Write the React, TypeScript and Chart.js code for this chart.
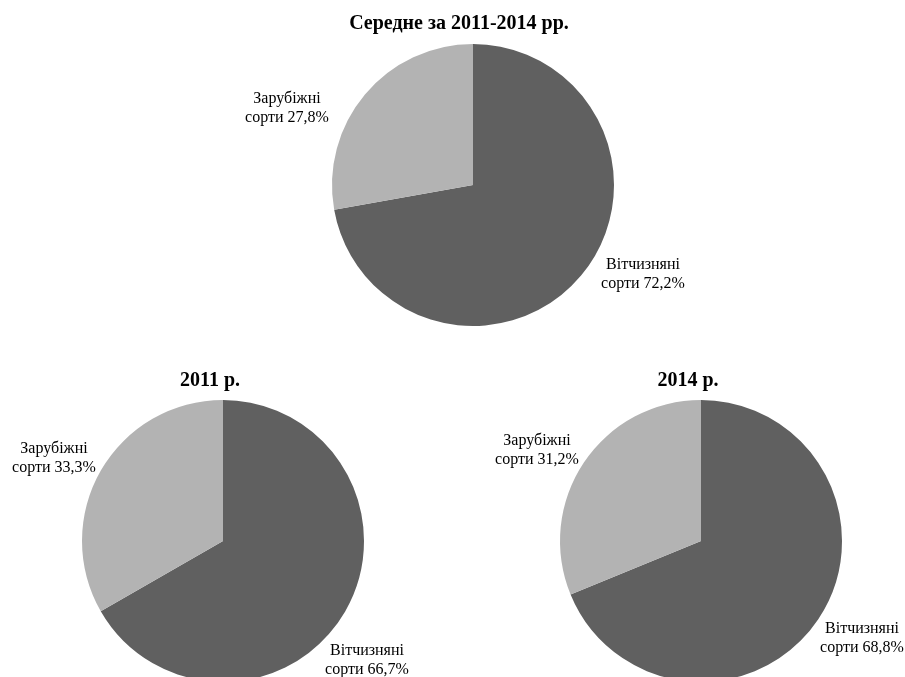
import React, { useEffect, useRef } from "react";
import { Chart, registerables } from "chart.js";

Chart.register(...registerables);

// ---- Data ----
const categories = ["Вітчизняні сорти", "Зарубіжні сорти"];
const avgValues = [72.2, 27.8];
const values2011 = [66.7, 33.3];
const values2014 = [68.8, 31.2];
const chartTitles = ["Середне за 2011-2014 рр.", "2011 р.", "2014 р."];

// ---- Styles / layout ----
const sliceColors = ["#606060", "#b3b3b3"];
const FONT = '"Liberation Serif", "Times New Roman", serif';
const PAGE_W = 905;
const PAGE_H = 677;
const CANVAS_H = 720;
const RADIUS = 141;

type LabelPos = { dx: number; dy: number };
type PieLayout = { cx: number; cy: number; titleDx: number; titleDy: number; labels: LabelPos[] };

const layouts: PieLayout[] = [
  { cx: 473, cy: 185, titleDx: -14, titleDy: -156, labels: [{ dx: 170, dy: 84 }, { dx: -186, dy: -82 }] },
  { cx: 223, cy: 541, titleDx: -13, titleDy: -155, labels: [{ dx: 144, dy: 114 }, { dx: -169, dy: -88 }] },
  { cx: 701, cy: 541, titleDx: -13, titleDy: -155, labels: [{ dx: 161, dy: 92 }, { dx: -164, dy: -96 }] },
];

const seriesList = [avgValues, values2011, values2014];

const fmt = (v: number) => v.toFixed(1).replace(".", ",") + "%";

const labelPlugin = {
  id: "pieText",
  afterDraw(chart: any, _args: any, opts: any) {
    const meta = chart.getDatasetMeta(0);
    const arc = meta.data[0];
    if (!arc) return;
    const cx = arc.x;
    const cy = arc.y;
    const ctx = chart.ctx;
    ctx.save();
    ctx.fillStyle = "#000";
    ctx.textAlign = "center";
    ctx.textBaseline = "alphabetic";
    // title
    ctx.font = `bold 20px ${FONT}`;
    ctx.fillText(opts.title, cx + opts.titleDx, cy + opts.titleDy);
    // labels
    ctx.font = `16px ${FONT}`;
    const data = chart.data.datasets[0].data as number[];
    const labels = chart.data.labels as string[];
    data.forEach((v, i) => {
      const pos = opts.labels[i];
      const words = labels[i].split(" ");
      const lines = [words[0], words.slice(1).join(" ") + " " + fmt(v)];
      lines.forEach((line, j) => {
        ctx.fillText(line, cx + pos.dx, cy + pos.dy + j * 19);
      });
    });
    ctx.restore();
  },
};

function PieCanvas({ idx }: { idx: number }) {
  const ref = useRef<HTMLCanvasElement | null>(null);
  useEffect(() => {
    if (!ref.current) return;
    const L = layouts[idx];
    const chart = new Chart(ref.current, {
      type: "pie",
      data: {
        labels: categories,
        datasets: [
          {
            data: seriesList[idx],
            backgroundColor: sliceColors,
            borderWidth: 0,
            hoverOffset: 0,
          },
        ],
      },
      options: {
        responsive: false,
        animation: false,
        devicePixelRatio: 1,
        layout: {
          padding: {
            left: L.cx - RADIUS,
            top: L.cy - RADIUS,
            right: PAGE_W - (L.cx + RADIUS),
            bottom: CANVAS_H - (L.cy + RADIUS),
          },
        },
        plugins: {
          legend: { display: false },
          tooltip: { enabled: false },
          title: { display: false },
          pieText: {
            title: chartTitles[idx],
            titleDx: L.titleDx,
            titleDy: L.titleDy,
            labels: L.labels,
          },
        } as any,
      },
      plugins: [labelPlugin],
    });
    return () => chart.destroy();
  }, [idx]);
  return (
    <canvas
      ref={ref}
      width={PAGE_W}
      height={CANVAS_H}
      style={{ position: "absolute", left: 0, top: 0, width: PAGE_W, height: CANVAS_H }}
    />
  );
}

export default function App() {
  return (
    <div
      style={{
        position: "fixed",
        left: 0,
        top: 0,
        width: PAGE_W,
        height: PAGE_H,
        overflow: "hidden",
        background: "#fff",
      }}
    >
      <PieCanvas idx={0} />
      <PieCanvas idx={1} />
      <PieCanvas idx={2} />
    </div>
  );
}
